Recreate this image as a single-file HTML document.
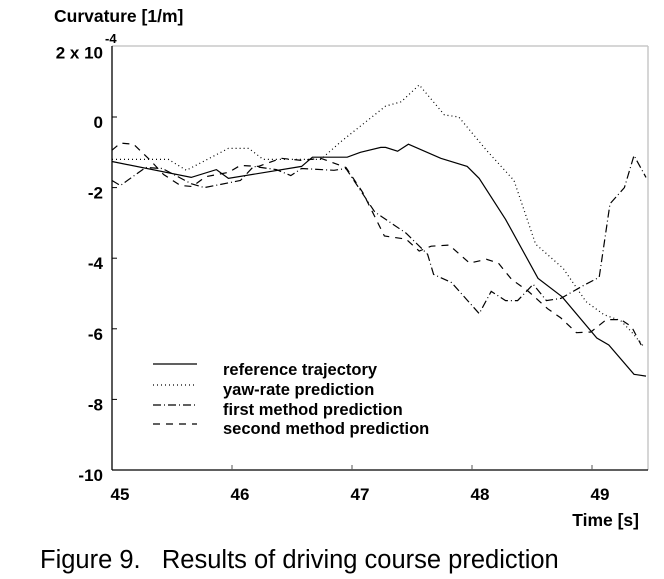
<!DOCTYPE html>
<html><head><meta charset="utf-8"><style>
html,body{margin:0;padding:0;background:#fff;}
svg{display:block;font-family:"Liberation Sans",Arial,sans-serif;}
</style></head><body>
<svg id="chart" width="664" height="579" viewBox="0 0 664 579" xmlns="http://www.w3.org/2000/svg">
<g id="axes"></g>
<g id="series"></g>
<text x="54" y="22" font-size="17.5" font-weight="bold">Curvature [1/m]</text>
<text x="105" y="43" font-size="13" font-weight="bold">-4</text>
<text x="639" y="526" font-size="17.5" font-weight="bold" text-anchor="end">Time [s]</text>
<text x="40" y="568" font-size="25.5" xml:space="preserve">Figure 9.   Results of driving course prediction</text>
<g font-size="16.5" font-weight="bold">
<line x1="153" y1="364" x2="197" y2="364" stroke="#000" stroke-width="1.3"/>
<text x="223" y="375">reference trajectory</text>
<line x1="153" y1="385" x2="197" y2="385" stroke="#000" stroke-width="1.2" stroke-dasharray="1,3"/>
<text x="223" y="395">yaw-rate prediction</text>
<line x1="153" y1="405" x2="197" y2="405" stroke="#000" stroke-width="1.2" stroke-dasharray="8,3,1,3"/>
<text x="223" y="415">first method prediction</text>
<line x1="153" y1="424" x2="197" y2="424" stroke="#000" stroke-width="1.2" stroke-dasharray="7,6"/>
<text x="223" y="434">second method prediction</text>
</g>
</svg>
<script>
const xTicks=[45,46,47,48,49];
const yTicks=[2,0,-2,-4,-6,-8,-10];
const yTickLabels=["2  x 10","0","-2","-4","-6","-8","-10"];
const refT=[45,45.66,45.87,45.97,46.58,46.67,46.96,47.07,47.24,47.28,47.38,47.47,47.74,47.96,48.06,48.28,48.55,48.75,49.04,49.14,49.35,49.45];
const refV=[-1.26,-1.71,-1.49,-1.74,-1.4,-1.14,-1.14,-1.0,-0.86,-0.86,-0.97,-0.77,-1.17,-1.4,-1.74,-2.9,-4.57,-5.09,-6.26,-6.46,-7.29,-7.34];
const yawT=[45,45.47,45.62,45.97,46.14,46.26,46.74,46.91,47.28,47.41,47.56,47.77,47.89,48.12,48.35,48.53,48.76,48.95,49.1,49.24,49.33,49.43];
const yawV=[-1.2,-1.2,-1.51,-0.89,-0.89,-1.2,-1.2,-0.69,0.31,0.43,0.91,0.06,0.0,-0.94,-1.8,-3.6,-4.29,-5.23,-5.6,-5.77,-6.09,-6.5];
const firstT=[45,45.07,45.28,45.42,45.66,45.77,46.07,46.18,46.37,46.49,46.58,46.85,46.95,47.19,47.45,47.63,47.68,47.83,48.06,48.16,48.28,48.38,48.51,48.62,48.74,48.93,49.06,49.15,49.27,49.35,49.45];
const firstV=[-1.8,-1.94,-1.43,-1.46,-1.89,-2.0,-1.8,-1.4,-1.49,-1.66,-1.46,-1.51,-1.46,-2.69,-3.29,-3.89,-4.46,-4.69,-5.57,-4.94,-5.2,-5.2,-4.74,-5.2,-5.14,-4.77,-4.54,-2.46,-2.0,-1.09,-1.71];
const secondT=[45,45.07,45.18,45.32,45.43,45.57,45.67,45.78,45.97,46.07,46.22,46.41,46.58,46.74,46.95,47.09,47.27,47.45,47.56,47.66,47.81,47.98,48.12,48.22,48.33,48.47,48.63,48.74,48.87,48.99,49.12,49.24,49.33,49.41];
const secondV=[-0.94,-0.74,-0.77,-1.23,-1.63,-1.94,-1.97,-1.69,-1.57,-1.37,-1.4,-1.17,-1.23,-1.17,-1.43,-2.14,-3.37,-3.46,-3.8,-3.66,-3.63,-4.14,-4.03,-4.14,-4.6,-4.94,-5.43,-5.69,-6.11,-6.09,-5.74,-5.74,-5.94,-6.46];

const NS="http://www.w3.org/2000/svg";
const X0=112,X1=648,Y0=46,Y1=470;
function xs(t){return 112+120*(t-45);}
function ys(v){return 117-35.3*v;}
function mk(tag,attrs,parent){const e=document.createElementNS(NS,tag);for(const k in attrs)e.setAttribute(k,attrs[k]);parent.appendChild(e);return e;}
const axes=document.getElementById('axes');
let e;
e=mk('line',{x1:X0,y1:Y0,x2:X1,y2:Y0,stroke:'#c8c8c8','stroke-width':1.5},axes);


e=mk('line',{x1:X1,y1:Y0,x2:X1,y2:Y1,stroke:'#c8c8c8','stroke-width':1.5},axes);


e=mk('line',{x1:X0,y1:Y0,x2:X0,y2:Y1,stroke:'#000','stroke-width':1.3},axes);


e=mk('line',{x1:X0,y1:Y1,x2:X1,y2:Y1,stroke:'#000','stroke-width':1.3},axes);


xTicks.forEach((t,i)=>{
  if(i>0){const l=mk('line',{x1:xs(t),y1:Y1,x2:xs(t),y2:Y1-5,stroke:'#555','stroke-width':1},axes);
  
  }
  const tx=mk('text',{x:xs(t)+8,y:500,'font-size':17,'font-weight':'bold','text-anchor':'middle'},axes);
  tx.textContent=String(t);
  
  
});
yTicks.forEach((v,i)=>{
  if(i>0&&i<yTicks.length-1){const l=mk('line',{x1:X0,y1:ys(v),x2:X0+5,y2:ys(v),stroke:'#000','stroke-width':1},axes);
  
  }
  const tx=mk('text',{x:103,y:ys(v)+(i===0?12:11),'font-size':17,'font-weight':'bold','text-anchor':'end'},axes);
  tx.textContent=yTickLabels[i];
  tx.setAttribute('xml:space','preserve');
  
  
});
const ser=document.getElementById('series');
function line(T,V,dash,name){
  const d=T.map((t,i)=>(i?'L':'M')+xs(t).toFixed(1)+','+ys(V[i]).toFixed(1)).join(' ');
  const p=mk('path',{d:d,fill:'none',stroke:'#000','stroke-width':1.2},ser);
  if(dash)p.setAttribute('stroke-dasharray',dash);
  
  
}
line(refT,refV,null,'reference-trajectory-line');
line(yawT,yawV,'1,3','yaw-rate-prediction-line');
line(firstT,firstV,'8,3,1,3','first-method-prediction-line');
line(secondT,secondV,'7,6','second-method-prediction-line');
</script>
</body></html>
